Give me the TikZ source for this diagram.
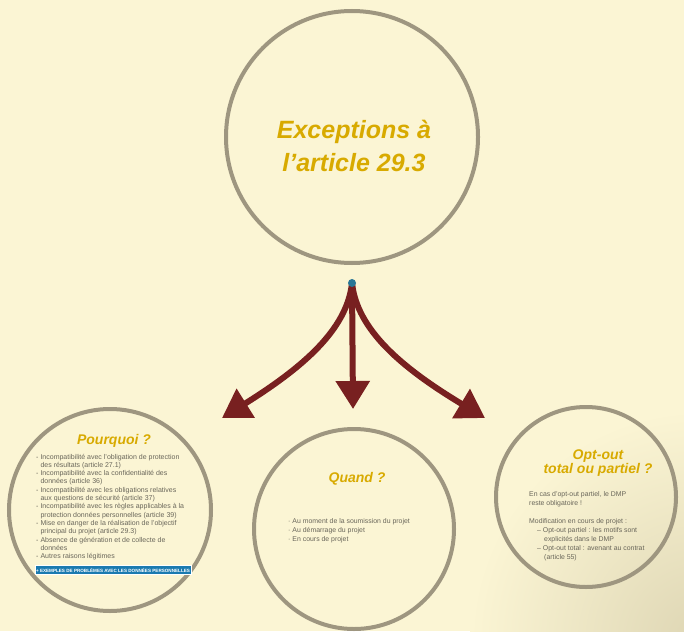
\documentclass[tikz,border=0pt]{standalone}
\usepackage{fontspec}
\setmainfont{Liberation Sans}
\usetikzlibrary{arrows.meta}
\definecolor{bg}{RGB}{251,245,212}
\definecolor{bgdark}{RGB}{222,214,180}
\definecolor{ring}{RGB}{158,150,128}
\definecolor{gold}{RGB}{216,170,0}
\definecolor{body}{RGB}{105,102,90}
\definecolor{arrowred}{RGB}{120,32,32}
\definecolor{dotblue}{RGB}{40,118,150}
\definecolor{barblue}{RGB}{26,122,176}
\tikzset{
  ring/.style={circle, draw=ring, line width=4pt, inner sep=0pt},
  ttl/.style={text=gold, font=\bfseries\itshape, align=center, inner sep=0pt},
  bodytext/.style={text=body, align=left, inner sep=0pt, anchor=north west},
  link/.style={draw=arrowred, line width=6pt, -{Triangle[width=33pt,length=28pt]}},
}
\begin{document}
\begin{tikzpicture}[x=1pt,y=-1pt]
\useasboundingbox (0,0) rectangle (684,631);
\fill[bg] (0,0) rectangle (684,631);
\begin{scope}
\clip (0,0) rectangle (684,631);
\shade[inner color=bgdark, outer color=bg] (700,640) circle (230);
\end{scope}

% circles
\node[ring, minimum size=252pt] (top) at (352,137) {};
\node[ring, minimum size=202pt] (why) at (110,510) {};
\node[ring, minimum size=200pt] (when) at (354,529) {};
\node[ring, minimum size=180pt] (opt) at (586,497) {};

% top title
\node[ttl, font=\fontsize{25}{33}\selectfont\bfseries\itshape] (toptitle) at (354,146) {Exceptions à\\l'article 29.3};

% connectors
\coordinate (src) at (352,283);
\coordinate (tipL) at (222,418);
\coordinate (tipM) at (353,409);
\coordinate (tipR) at (485,418);
\draw[link] (src) .. controls (347,330) and (302,368) .. (tipL);
\draw[link] (src) -- (tipM);
\draw[link] (src) .. controls (357,330) and (402,368) .. (tipR);
\fill[dotblue] (src) circle (4);

% Pourquoi
\node[ttl, font=\fontsize{14}{16}\selectfont\bfseries\itshape] (whyt) at (114,441) {Pourquoi ?};
\node[bodytext, font=\fontsize{7}{8.3}\selectfont] (whyb) at (36,453) {%
\begin{tabular}{@{}l@{\hspace{2pt}}l@{}}
- & Incompatibilité avec l'obligation de protection\\
  & des résultats (article 27.1)\\
- & Incompatibilité avec la confidentialité des\\
  & données (article 36)\\
- & Incompatibilité avec les obligations relatives\\
  & aux questions de sécurité (article 37)\\
- & Incompatibilité avec les règles applicables à la\\
  & protection données personnelles (article 39)\\
- & Mise en danger de la réalisation de l'objectif\\
  & principal du projet (article 29.3)\\
- & Absence de génération et de collecte de\\
  & données\\
- & Autres raisons légitimes
\end{tabular}};
\node[fill=barblue, draw=white, line width=0.6pt, text=white, inner sep=1pt, minimum width=140pt, minimum height=9pt, font=\fontsize{4.6}{5}\selectfont\bfseries] (bar) at (113,570) {+ EXEMPLES DE PROBLÈMES AVEC LES DONNÉES PERSONNELLES};

% Quand
\node[ttl, font=\fontsize{14}{16}\selectfont\bfseries\itshape] (whent) at (357,479) {Quand ?};
\node[bodytext, font=\fontsize{6.9}{9}\selectfont] (whenb) at (288,517) {%
\begin{tabular}{@{}l@{\hspace{2pt}}l@{}}
· & Au moment de la soumission du projet\\
· & Au démarrage du projet\\
· & En cours de projet
\end{tabular}};

% Opt-out
\node[ttl, font=\fontsize{14}{14}\selectfont\bfseries\itshape] (optt) at (598,463) {Opt-out\\total ou partiel ?};
\node[bodytext, font=\fontsize{6.9}{9}\selectfont] (optb) at (529,491) {%
En cas d'opt-out partiel, le DMP\\
reste obligatoire !\\[9pt]
Modification en cours de projet :\\
\hspace*{8pt}– Opt-out partiel : les motifs sont\\
\hspace*{15pt}explicités dans le DMP\\
\hspace*{8pt}– Opt-out total : avenant au contrat\\
\hspace*{15pt}(article 55)};
\end{tikzpicture}
\end{document}
